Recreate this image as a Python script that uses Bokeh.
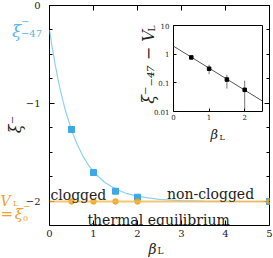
import math
from bokeh.plotting import figure
from bokeh.models import (Range1d, FixedTicker, LinearAxis, Label, Span, CustomJSTickFormatter,
                          GridBox)
from bokeh.embed import file_html
from bokeh.resources import INLINE

# ---------------- main panel data ----------------
beta_sim = [0.5, 1.0, 1.5, 2.0, 5.0]
xi_sim = [-1.265, -1.704, -1.895, -1.956, -2.0]
beta_eq = [0.5, 1.0, 1.5, 2.0, 5.0]
xi_eq = [-2.0, -2.0, -2.0, -2.0, -2.0]
beta_fit = [0.0, 0.0625, 0.125, 0.1875, 0.25, 0.3125, 0.375, 0.5, 0.625, 0.75, 0.875,
            1.0, 1.25, 1.5, 1.75, 2.0, 2.5, 3.0, 3.5, 4.0, 5.0]
xi_fit = [-0.25, -0.431, -0.594, -0.740, -0.871, -0.987, -1.092, -1.271, -1.414, -1.529,
          -1.622, -1.696, -1.804, -1.873, -1.918, -1.947, -1.978, -1.991, -1.996, -1.998, -2.0]
V_L = -2.0
xi_m47 = -0.25
x_ticks = [0, 1, 2, 3, 4, 5]
y_ticks = [-2, -1, 0]
y_minor = [-2.0, -1.75, -1.5, -1.25, -1.0, -0.75, -0.5, -0.25, 0.0]

# ---------------- inset data ----------------
ins_beta = [0.5, 1.0, 1.5, 2.0]
ins_val = [0.77, 0.31, 0.13, 0.057]
ins_lo = [0.77, 0.20, 0.063, 0.005]
ins_hi = [0.77, 0.43, 0.19, 0.12]
ins_fit_beta = [0.0, 2.5]
ins_fit_val = [1.9, 0.023]
ins_x_ticks = [0, 1, 2]
ins_y_ticks = [0.01, 0.1, 1, 10]

BLUE = "#3aa9e6"
BLUE_LINE = "#8fd0f5"
BLUE_TXT = "#5ab6ec"
ORANGE = "#f0a010"
ORANGE_TXT = "#f0a030"
SERIF = "DejaVu Serif"
TXT = "#222222"

W, H = 273, 258
BL, BR, BT, BB = 49, 4, 5, 33
X0, X1 = 0.0, 5.0
Y0, Y1 = -2.245, 0.0

p = figure(width=W, height=H, x_range=Range1d(X0, X1), y_range=Range1d(Y0, Y1),
           output_backend="svg", toolbar_location=None, frame_align=False,
           min_border_left=BL, min_border_right=BR, min_border_top=BT, min_border_bottom=BB)
p.background_fill_color = "white"
p.border_fill_color = "white"
p.outline_line_color = "black"
p.outline_line_width = 1
p.grid.visible = False

minus_fmt = CustomJSTickFormatter(code="return tick < 0 ? '\\u2212' + Math.abs(tick) : '' + tick;")
blank_fmt = CustomJSTickFormatter(code="return '';")

xt = FixedTicker(ticks=x_ticks, minor_ticks=[])
yt = FixedTicker(ticks=y_ticks, minor_ticks=y_minor)

xa = p.xaxis[0]
xa.ticker = xt
xa.axis_line_color = None
xa.major_tick_in = 5
xa.major_tick_out = 0
xa.minor_tick_in = 0
xa.minor_tick_out = 0
xa.major_label_text_font = SERIF
xa.major_label_text_font_size = "10px"
xa.major_label_text_color = TXT
xa.major_label_standoff = 4

ya = p.yaxis[0]
ya.ticker = yt
ya.formatter = minus_fmt
ya.axis_line_color = None
ya.major_tick_in = 5
ya.major_tick_out = 0
ya.minor_tick_in = 3
ya.minor_tick_out = 0
ya.major_label_text_font = SERIF
ya.major_label_text_font_size = "10px"
ya.major_label_text_color = TXT
ya.major_label_standoff = 9

top = LinearAxis(ticker=xt, formatter=blank_fmt, axis_line_color=None, major_tick_in=5,
                 major_tick_out=0, minor_tick_in=0, minor_tick_out=0, major_label_standoff=0)
p.add_layout(top, "above")
right = LinearAxis(ticker=yt, formatter=blank_fmt, axis_line_color=None, major_tick_in=5,
                   major_tick_out=0, minor_tick_in=3, minor_tick_out=0, major_label_standoff=0)
p.add_layout(right, "right")

p.add_layout(Span(location=V_L, dimension="width", line_color="#f2b850", line_width=2, line_alpha=0.8))
p.line(beta_fit, xi_fit, line_color=BLUE_LINE, line_width=1.2)
p.scatter(beta_sim, xi_sim, marker="square", size=6, color=BLUE)
p.scatter(beta_eq, xi_eq, marker="circle", size=5.5, color=ORANGE, alpha=0.85)


def lab(x, y, text, size, color=TXT, italic=False, align="left", baseline="alphabetic", **kw):
    return Label(x=x, y=y, text=text, text_font=SERIF, text_font_size=size, text_color=color,
                 text_align=align, text_baseline=baseline,
                 text_font_style="italic" if italic else "normal", **kw)


p.add_layout(lab(0.02, -1.93, "clogged", "14px"))
p.add_layout(lab(4.65, -1.925, "non-clogged", "14px", align="right"))
p.add_layout(lab(2.48, -2.19, "thermal equilibrium", "14px", align="center"))

# ---------------- inset ----------------
IBL, IBR, IBT, IBB = 33, 3, 6, 14
ins = figure(width=IBL + 89 + IBR, height=IBT + 86 + IBB, x_range=Range1d(0, 2.5),
             y_range=Range1d(0.01, 10), y_axis_type="log", output_backend="svg",
             toolbar_location=None, frame_align=False, min_border_left=IBL, min_border_right=IBR,
             min_border_top=IBT, min_border_bottom=IBB)
ins.background_fill_color = "white"
ins.border_fill_color = None
ins.outline_line_color = "black"
ins.outline_line_width = 1
ins.grid.visible = False

ixa = ins.xaxis[0]
ixa.ticker = FixedTicker(ticks=ins_x_ticks, minor_ticks=[])
ixa.axis_line_color = None
ixa.major_tick_in = 3
ixa.major_tick_out = 0
ixa.minor_tick_in = 0
ixa.minor_tick_out = 0
ixa.major_label_text_font = SERIF
ixa.major_label_text_font_size = "7px"
ixa.major_label_text_color = TXT
ixa.major_label_standoff = 2

iya = ins.yaxis[0]
iya.ticker = FixedTicker(ticks=ins_y_ticks, minor_ticks=[])
iya.formatter = CustomJSTickFormatter(
    code="return tick >= 1 ? tick.toFixed(0) : (tick >= 0.1 ? tick.toFixed(1) : tick.toFixed(2));")
iya.axis_line_color = None
iya.major_tick_in = 3
iya.major_tick_out = 0
iya.minor_tick_in = 0
iya.minor_tick_out = 0
iya.major_label_text_font = SERIF
iya.major_label_text_font_size = "7px"
iya.major_label_text_color = TXT
iya.major_label_standoff = 4

ins.line(ins_fit_beta, ins_fit_val, line_color="#555555", line_width=1)
ins.segment(x0=ins_beta, y0=ins_lo, x1=ins_beta, y1=ins_hi, line_color="#777777", line_width=1)
ins.scatter(ins_beta, ins_val, marker="square", size=3.5, color="black")

ins.margin = (19, 0, 0, 140)

# ---------------- transparent overlay for texts outside the frames ----------------
px_x = (X1 - X0) / (W - BL - BR)
px_y = (Y1 - Y0) / (H - BT - BB)
ov = figure(width=W, height=H,
            x_range=Range1d(X0 - BL * px_x, X1 + BR * px_x),
            y_range=Range1d(Y0 - BB * px_y, Y1 + BT * px_y),
            output_backend="svg", toolbar_location=None, frame_align=False,
            x_axis_location=None, y_axis_location=None,
            min_border=0, min_border_left=0, min_border_right=0,
            min_border_top=0, min_border_bottom=0)
ov.background_fill_color = None
ov.border_fill_color = None
ov.outline_line_color = None
ov.grid.visible = False

# xi^-_{-47} marker label (blue), anchored at its value
ov.add_layout(lab(-0.85, xi_m47 - 0.015, "ξ", "17px", color=BLUE_TXT, italic=True))
ov.add_layout(lab(-0.65, xi_m47 + 0.09, "−", "10px", color=BLUE_TXT, baseline="middle"))
ov.add_layout(lab(-0.65, xi_m47 - 0.04, "−47", "10px", color=BLUE_TXT))

# V_L = xi_0^- label (orange), anchored at V_L
ov.add_layout(lab(-1.115, V_L, "V", "14px", color=ORANGE_TXT, italic=True))
ov.add_layout(lab(-0.83, V_L - 0.017, "L", "8px", color=ORANGE_TXT))
ov.add_layout(lab(-1.115, V_L - 0.128, "=", "15px", color=ORANGE_TXT))
ov.add_layout(lab(-0.79, V_L - 0.128, "ξ", "15px", color=ORANGE_TXT, italic=True))
ov.add_layout(lab(-0.6, V_L - 0.17, "0", "8px", color=ORANGE_TXT))
ov.add_layout(lab(-0.6, V_L - 0.04, "−", "9px", color=ORANGE_TXT, baseline="middle"))

# main axis titles (screen units, from bottom-left of the canvas)
ov.add_layout(Label(x=15, y=H - 124, x_units="screen", y_units="screen", text="ξ⁻",
                    angle=math.pi / 2, text_font=SERIF, text_font_size="16px",
                    text_font_style="italic", text_color=TXT,
                    text_align="center", text_baseline="middle"))
ov.add_layout(Label(x=148, y=H - 248, x_units="screen", y_units="screen", text="β",
                    text_font=SERIF, text_font_size="14px", text_font_style="italic",
                    text_color=TXT, text_align="left", text_baseline="alphabetic"))
ov.add_layout(Label(x=157, y=H - 250, x_units="screen", y_units="screen", text="L",
                    text_font=SERIF, text_font_size="9px",
                    text_color=TXT, text_align="left", text_baseline="alphabetic"))

# inset axis titles
ov.add_layout(Label(x=148, y=H - 103.3, x_units="screen", y_units="screen", text="ξ⁻₋₄₇ − V",
                    angle=math.pi / 2, text_font=SERIF, text_font_size="16px",
                    text_font_style="italic", text_color=TXT,
                    text_align="left", text_baseline="alphabetic"))
ov.add_layout(Label(x=151, y=H - 31, x_units="screen", y_units="screen", text="L",
                    angle=math.pi / 2, text_font=SERIF, text_font_size="9px",
                    text_color=TXT, text_align="left", text_baseline="alphabetic"))
ov.add_layout(Label(x=210, y=H - 134, x_units="screen", y_units="screen", text="β",
                    text_font=SERIF, text_font_size="13px", text_font_style="italic",
                    text_color=TXT, text_align="left", text_baseline="alphabetic"))
ov.add_layout(Label(x=219, y=H - 137, x_units="screen", y_units="screen", text="L",
                    text_font=SERIF, text_font_size="8px",
                    text_color=TXT, text_align="left", text_baseline="alphabetic"))

grid = GridBox(children=[(p, 0, 0), (ins, 0, 0), (ov, 0, 0)])
open("out.html", "w").write(file_html(grid, INLINE))
